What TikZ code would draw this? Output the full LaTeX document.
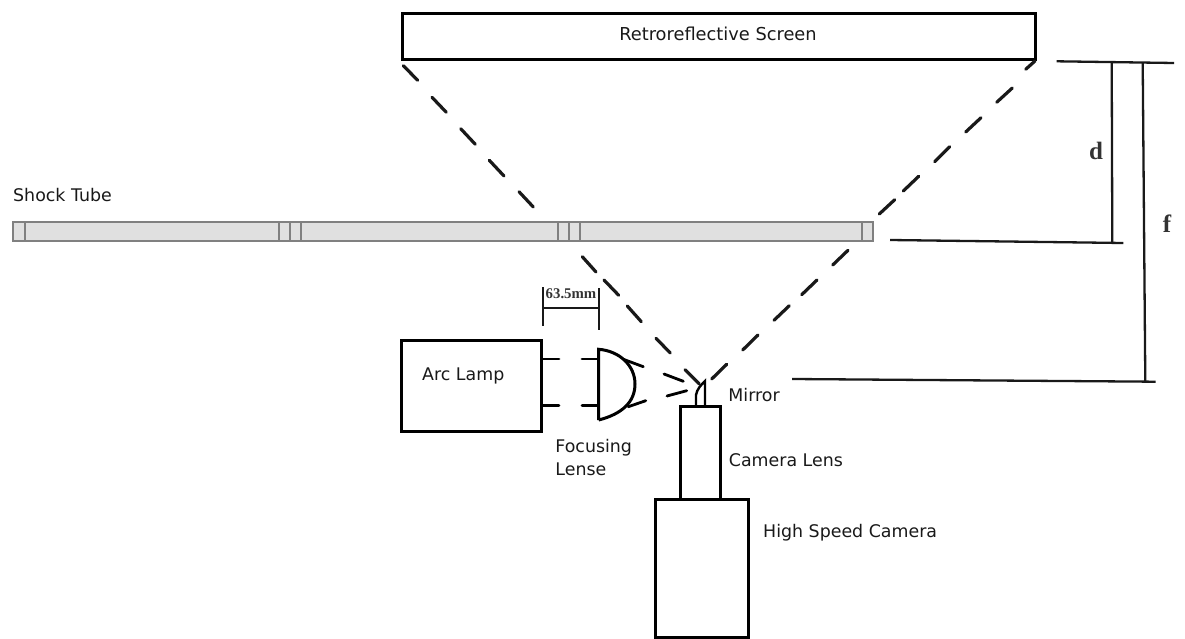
\documentclass[tikz,border=0pt]{standalone}
\usepackage{fontspec}
\setmainfont{DejaVu Sans}
\newfontfamily\serifdim{Liberation Serif}
\begin{document}
\begin{tikzpicture}[x=1pt,y=-1pt,
  heavy/.style={draw=black,line width=3pt,line cap=round},
  stub/.style={draw=black,line width=2.8pt,line cap=round},
  ray/.style={draw=black!90,line width=3.2pt,line cap=round},
  thin dim/.style={draw=black!90,line width=2.3pt},
  tube/.style={draw=black!50,line width=1.7pt},
  lbl/.style={font=\fontsize{17.4}{22.5}\selectfont,inner sep=0pt,anchor=base west,text=black!90},
  dimlbl/.style={font=\serifdim\bfseries\fontsize{25}{28}\selectfont,inner sep=0pt,text=black!80}]
\useasboundingbox (0,0) rectangle (1185,639);
% Screen
\draw[heavy,line cap=butt] (402,14) rectangle (1035,60);
\node[lbl,anchor=base,font=\fontsize{17.8}{22}\selectfont] (screen) at (718,40.5) {Retroreflective Screen};
% Shock tube
\draw[tube,fill=black!12] (12.7,222.3) rectangle (872.7,241);
\foreach \x in {24.7,279.3,290,300.7,558.3,569.3,580.3,861.7}
  \draw[tube] (\x,222.3) -- (\x,241);
\node[lbl] (shock) at (13,201) {Shock Tube};
% Rays, left
\foreach \a/\b/\c/\d in {403.3/65.7/417.7/80.3,432/97.3/446.3/112.3,460.7/128.7/475.3/144.3,489.3/160.3/504/176,519/191.7/533.3/207,582.3/256.7/596/272,604/280/618.7/295.3,627.3/306/641.3/321.7,656/338.3/670.3/353,685/369.7/699.3/384}
  \draw[ray] (\a,\b) -- (\c,\d);
% Rays, right
\foreach \a/\b/\c/\d in {1025.7/69.3/1035/61,996.7/102.3/1012.3/88,965.7/132/981/117.7,934.7/161.7/949.7/146.7,903.3/191/918.7/176.3,879.3/214/894.7/199.7,832.7/265/848/250.3,801.7/294.7/817/280,774/320.3/789.3/305.7,742.7/350/758/335,711.7/379/726.7/364.3}
  \draw[ray] (\a,\b) -- (\c,\d);
% Arc lamp
\draw[heavy,line cap=butt] (401,340) rectangle (541.7,431);
\node[lbl] (arc) at (422,380) {Arc Lamp};
\foreach \y in {359,405.7}{
  \draw[stub] (542,\y) -- (559,\y);
  \draw[stub] (582,\y) -- (598,\y);
}
% Lens
\draw[heavy,line cap=butt,line join=miter] (598.7,420) -- (598.7,349.3)
  .. controls (620,351) and (635,366) .. (635,384)
  .. controls (635,402) and (622,414) .. (598.7,420);
\draw[stub] (623.3,359.3) -- (643.3,366.7);
\draw[stub] (628.3,406.7) -- (645.7,400.7);
\draw[stub] (664,374) -- (683.3,381.3);
\draw[stub] (667,396) -- (686.7,390.7);
\node[lbl] (focus) at (555.2,452.3) {Focusing};
\node[lbl] (lense) at (555.2,475.7) {Lense};
% 63.5 mm dimension
\draw[thin dim] (543.3,287.3) -- (543.3,326);
\draw[thin dim] (598.7,288) -- (598.7,330);
\draw[thin dim] (543.3,308.3) -- (598.7,308.3);
\node[inner sep=0pt,text=black!80,font=\serifdim\bfseries\fontsize{14.8}{16}\selectfont] (dim) at (571,294) {63.5mm};
% Mirror
\draw[draw=black,line width=2.4pt,line join=miter] (696,406) -- (696,395) .. controls (697,389) and (701,385) .. (705,381) -- (705,406);
\node[lbl] (mirror) at (728.2,401.7) {Mirror};
% Camera lens
\draw[draw=black,line width=2.5pt] (680.7,406.7) rectangle (720.7,499);
\node[lbl] (lens) at (728.7,466.7) {Camera Lens};
% Camera
\draw[heavy,line cap=butt] (655,499) rectangle (748,637);
\node[lbl] (camera) at (763,537.3) {High Speed Camera};
% d and f
\draw[thin dim] (1056.7,61.3) -- (1174,63);
\draw[thin dim] (1111.7,62) -- (1112.3,242.7);
\draw[thin dim] (1142.7,63) -- (1145.3,381.7);
\draw[thin dim] (890,240) -- (1123.3,243);
\draw[thin dim] (792,379) -- (1155.7,381.7);
\node[dimlbl] (d) at (1096,151) {d};
\node[dimlbl] (f) at (1167,224) {f};
\end{tikzpicture}
\end{document}
